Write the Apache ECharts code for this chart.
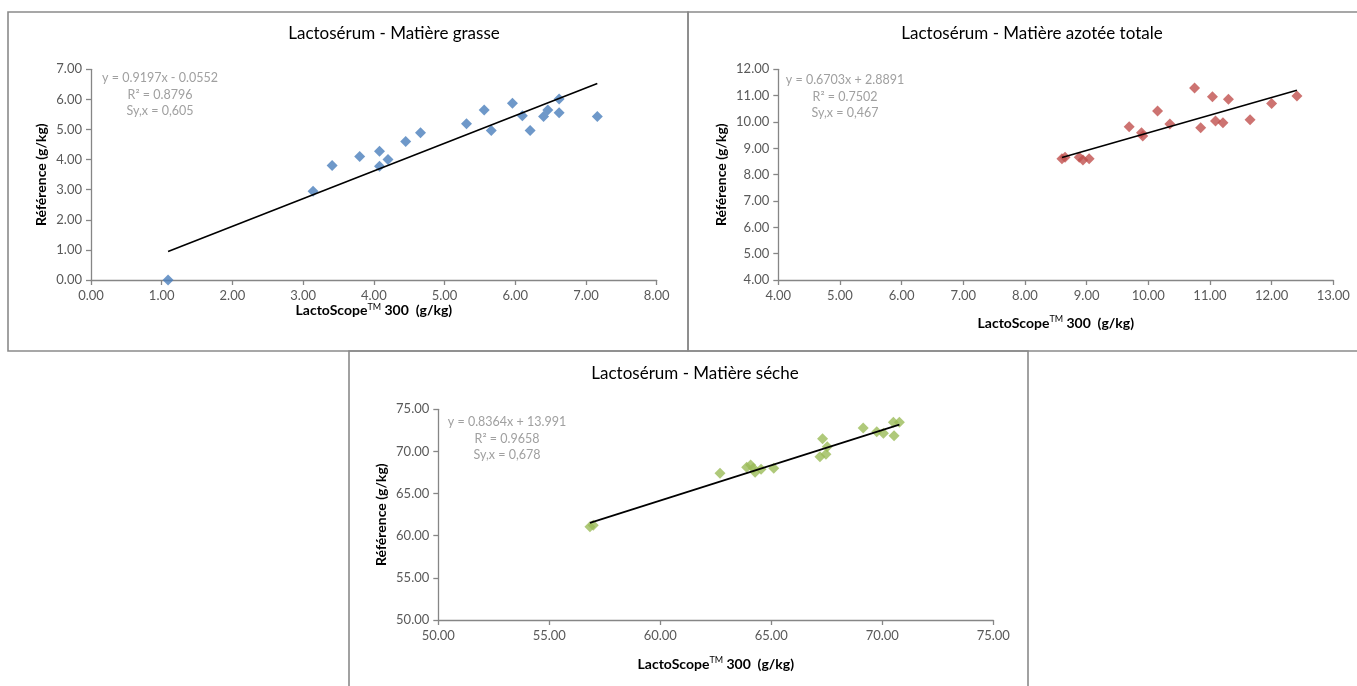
<!DOCTYPE html>
<html><head><meta charset="utf-8">
<script src="https://cdn.jsdelivr.net/npm/echarts@6/dist/echarts.min.js"></script>
<style>html,body{margin:0;padding:0;background:#fff}#c{width:1357px;height:686px}</style>
</head><body><div id="c"></div>
<script>
// ---- Data ----
const titles = ['Lactosérum - Matière grasse', 'Lactosérum - Matière azotée totale', 'Lactosérum - Matière séche'];
const mgX = [1.09, 3.14, 3.41, 3.80, 4.08, 4.08, 4.20, 4.45, 4.66, 5.31, 5.56, 5.66, 5.96, 6.10, 6.21, 6.40, 6.46, 6.62, 6.62, 7.16];
const mgY = [0.00, 2.95, 3.80, 4.10, 4.28, 3.78, 4.00, 4.60, 4.89, 5.19, 5.65, 4.97, 5.87, 5.46, 4.97, 5.43, 5.65, 6.01, 5.56, 5.43];
const matX = [8.60, 8.65, 8.88, 8.94, 9.04, 9.69, 9.89, 9.91, 10.15, 10.35, 10.75, 10.85, 11.04, 11.09, 11.21, 11.30, 11.65, 12.00, 12.41];
const matY = [8.60, 8.66, 8.66, 8.56, 8.60, 9.82, 9.59, 9.47, 10.42, 9.92, 11.29, 9.78, 10.96, 10.04, 9.97, 10.86, 10.08, 10.70, 10.99];
const msX = [56.83, 56.98, 62.69, 63.89, 64.07, 64.19, 64.27, 64.54, 65.11, 67.19, 67.31, 67.46, 67.52, 69.14, 69.75, 70.05, 70.50, 70.53, 70.77];
const msY = [61.07, 61.23, 67.40, 68.11, 68.39, 68.00, 67.52, 67.88, 68.00, 69.37, 71.51, 69.66, 70.56, 72.78, 72.34, 72.15, 73.45, 71.87, 73.45];
const slopes = [0.9197, 0.6703, 0.8364];
const intercepts = [-0.0552, 2.8891, 13.991];
const eqText = [
  ['y = 0.9197x - 0.0552', 'R² = 0.8796', 'Sy,x = 0,605'],
  ['y = 0.6703x + 2.8891', 'R² = 0.7502', 'Sy,x = 0,467'],
  ['y = 0.8364x + 13.991', 'R² = 0.9658', 'Sy,x = 0,678']
];
const xRanges = [[0, 8, 1], [4, 13, 1], [50, 75, 5]];
const yRanges = [[0, 7, 1], [4, 12, 1], [50, 75, 5]];
const colors = ['#4a7ebb', '#c0504d', '#9bbb59'];
const yName = 'Référence (g/kg)';

// ---- Layout (styles) ----
const FONT = 'Lato, "Open Sans", sans-serif';
const grids = [
  {left: 91, top: 69.3, width: 565.7, height: 210.7},
  {left: 778.3, top: 69.3, width: 555, height: 210.7},
  {left: 438.3, top: 409.3, width: 555, height: 210.7}
];
const xGaps = [22, 35, 36];
const yGaps = [43, 50, 50];
const titlePos = [{x: 394, y: 34}, {x: 1032, y: 34}, {x: 695, y: 374}];
const eqPos = [{x: 160, y: 78}, {x: 845, y: 80}, {x: 507, y: 422}];
const frames = [
  {x: 8, y: 12, width: 680, height: 339},
  {x: 688, y: 12, width: 675, height: 339},
  {x: 349, y: 351, width: 679, height: 345}
];

const datasets = [[mgX, mgY], [matX, matY], [msX, msY]];

const xName = '{a|LactoScope}{sup|TM}{a| 300  (g/kg)}';
const nameRich = {
  a: {fontFamily: FONT, fontSize: 14, fontWeight: 'bold', color: '#000', lineHeight: 16},
  sup: {fontFamily: FONT, fontSize: 9, fontWeight: 'normal', color: '#000', lineHeight: 16, verticalAlign: 'top', padding: [0, 0, 6, 0]}
};

function axisCommon() {
  return {
    axisLine: {lineStyle: {color: '#868686', width: 1.3}},
    axisTick: {show: true, length: 5, lineStyle: {color: '#868686', width: 1.3}},
    splitLine: {show: false},
    axisLabel: {color: '#595959', fontFamily: FONT, fontSize: 13, margin: 9, formatter: v => v.toFixed(2)}
  };
}

const xAxis = [], yAxis = [], series = [], graphic = [];
for (let i = 0; i < 3; i++) {
  xAxis.push(Object.assign(axisCommon(), {
    type: 'value', gridIndex: i, min: xRanges[i][0], max: xRanges[i][1], interval: xRanges[i][2],
    name: xName, nameLocation: 'middle', nameGap: xGaps[i], nameTextStyle: {rich: nameRich}
  }));
  yAxis.push(Object.assign(axisCommon(), {
    type: 'value', gridIndex: i, min: yRanges[i][0], max: yRanges[i][1], interval: yRanges[i][2],
    name: yName, nameLocation: 'middle', nameGap: yGaps[i],
    nameTextStyle: {fontFamily: FONT, fontSize: 14, fontWeight: 'bold', color: '#000'}
  }));
  const xs = datasets[i][0], ys = datasets[i][1];
  series.push({
    type: 'scatter', xAxisIndex: i, yAxisIndex: i, symbol: 'diamond', symbolSize: 11,
    itemStyle: {color: colors[i]},
    data: xs.map((x, k) => [x, ys[k]]), z: 3
  });
  const x0 = Math.min(...xs), x1 = Math.max(...xs);
  series.push({
    type: 'line', xAxisIndex: i, yAxisIndex: i, symbol: 'none', silent: true,
    lineStyle: {color: '#000', width: 1.6},
    data: [[x0, slopes[i] * x0 + intercepts[i]], [x1, slopes[i] * x1 + intercepts[i]]], z: 4
  });
  graphic.push({
    type: 'rect', shape: frames[i], style: {fill: 'none', stroke: '#8a8a8a', lineWidth: 1.6}, silent: true, z: 0
  });
  graphic.push({
    type: 'text', x: titlePos[i].x, y: titlePos[i].y,
    style: {text: titles[i], fill: '#000', font: '17px ' + FONT, align: 'center', verticalAlign: 'middle'}
  });
  eqText[i].forEach((t, k) => {
    graphic.push({
      type: 'text', x: eqPos[i].x, y: eqPos[i].y + k * 16.5,
      style: {text: t, fill: '#a0a0a0', font: '12.5px ' + FONT, align: 'center', verticalAlign: 'middle'}
    });
  });
}

const chart = echarts.init(document.getElementById('c'));
chart.setOption({
  animation: false,
  grid: grids,
  xAxis, yAxis, series, graphic
});
</script></body></html>
